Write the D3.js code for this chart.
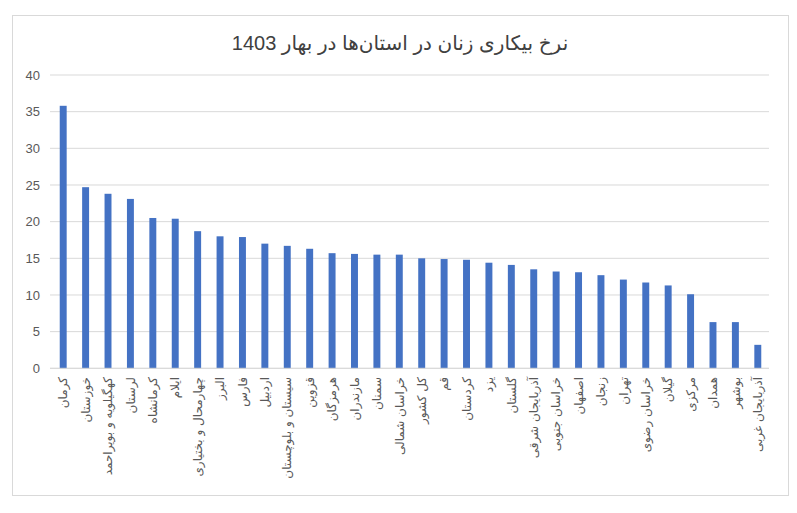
<!DOCTYPE html>
<html>
<head>
<meta charset="utf-8">
<script src="https://cdn.jsdelivr.net/npm/d3@7"></script>
<style>
  body { margin: 0; background: #fff; }
  svg { display: block; }
  .tick text { fill: #595959; }
</style>
</head>
<body>
<div id="chart"></div>
<script>
// provinces, sorted as in the source chart
var provinces = ["کرمان", "خوزستان", "کهگیلویه و بویراحمد", "لرستان", "کرمانشاه", "ایلام",
  "چهارمحال و بختیاری", "البرز", "فارس", "اردبیل", "سیستان و بلوچستان", "قزوین", "هرمزگان",
  "مازندران", "سمنان", "خراسان شمالی", "کل کشور", "قم", "کردستان", "یزد", "گلستان",
  "آذربایجان شرقی", "خراسان جنوبی", "اصفهان", "زنجان", "تهران", "خراسان رضوی", "گیلان",
  "مرکزی", "همدان", "بوشهر", "آذربایجان غربی"];

var rates = [35.8, 24.7, 23.8, 23.1, 20.5, 20.4, 18.7, 18.0, 17.9, 17.0, 16.7, 16.3, 15.7,
  15.6, 15.5, 15.5, 15.0, 14.9, 14.8, 14.4, 14.1, 13.5, 13.2, 13.1, 12.7, 12.1, 11.7, 11.3,
  10.1, 6.3, 6.3, 3.2];

var yTicks = [0, 5, 10, 15, 20, 25, 30, 35, 40];

var chartTitle = "نرخ بیکاری زنان در استان‌ها در بهار 1403";

var W = 797, H = 513;
var plot = { left: 52, right: 769, top: 75, bottom: 368.3 };

var svg = d3.select("#chart").append("svg")
  .attr("width", W)
  .attr("height", H);

// outer frame
svg.append("rect")
  .attr("x", 12.5).attr("y", 15.5)
  .attr("width", 776).attr("height", 480)
  .attr("fill", "#fff")
  .attr("stroke", "#d9d9d9")
  .attr("stroke-width", 1);

svg.append("text")
  .attr("x", 400)
  .attr("y", 50)
  .attr("text-anchor", "middle")
  .style("font-family", "'Liberation Sans', 'DejaVu Sans', sans-serif")
  .style("font-size", "20px")
  .style("fill", "#404040")
  .text(chartTitle);

var x = d3.scaleBand()
  .domain(provinces)
  .range([plot.left, plot.right])
  .paddingInner(0.69)
  .paddingOuter(0.345);

var y = d3.scaleLinear()
  .domain([0, 40])
  .range([plot.bottom, plot.top]);

// gridlines
svg.append("g")
  .selectAll("line")
  .data(yTicks)
  .join("line")
    .attr("x1", 50)
    .attr("x2", plot.right)
    .attr("y1", function(d) { return y(d); })
    .attr("y2", function(d) { return y(d); })
    .attr("stroke", "#d9d9d9")
    .attr("stroke-width", 1);

// y axis labels
var yAxis = svg.append("g")
  .attr("transform", "translate(" + 40 + ",0)")
  .call(d3.axisLeft(y).tickValues(yTicks).tickSize(0).tickPadding(0));
yAxis.select(".domain").remove();
yAxis.selectAll("text")
  .style("font-family", "'Liberation Sans', sans-serif")
  .style("font-size", "13px");

// bars
svg.append("g")
  .selectAll("rect")
  .data(rates)
  .join("rect")
    .attr("x", function(d, i) { return x(provinces[i]); })
    .attr("y", function(d) { return y(d); })
    .attr("width", x.bandwidth())
    .attr("height", function(d) { return y(0) - y(d); })
    .attr("fill", "#4472c4");

// x axis line
svg.append("line")
  .attr("x1", 50).attr("x2", plot.right)
  .attr("y1", y(0)).attr("y2", y(0))
  .attr("stroke", "#d9d9d9");

// category labels, rotated
svg.append("g")
  .selectAll("text")
  .data(provinces)
  .join("text")
    .attr("transform", function(d) {
      return "translate(" + (x(d) + x.bandwidth() / 2) + "," + 377 + ") rotate(-90)";
    })
    .attr("dy", "0.35em")
    .attr("text-anchor", "end")
    .style("font-family", "'DejaVu Sans', sans-serif")
    .style("font-size", "12px")
    .style("fill", "#595959")
    .text(function(d) { return d; });
</script>
</body>
</html>
